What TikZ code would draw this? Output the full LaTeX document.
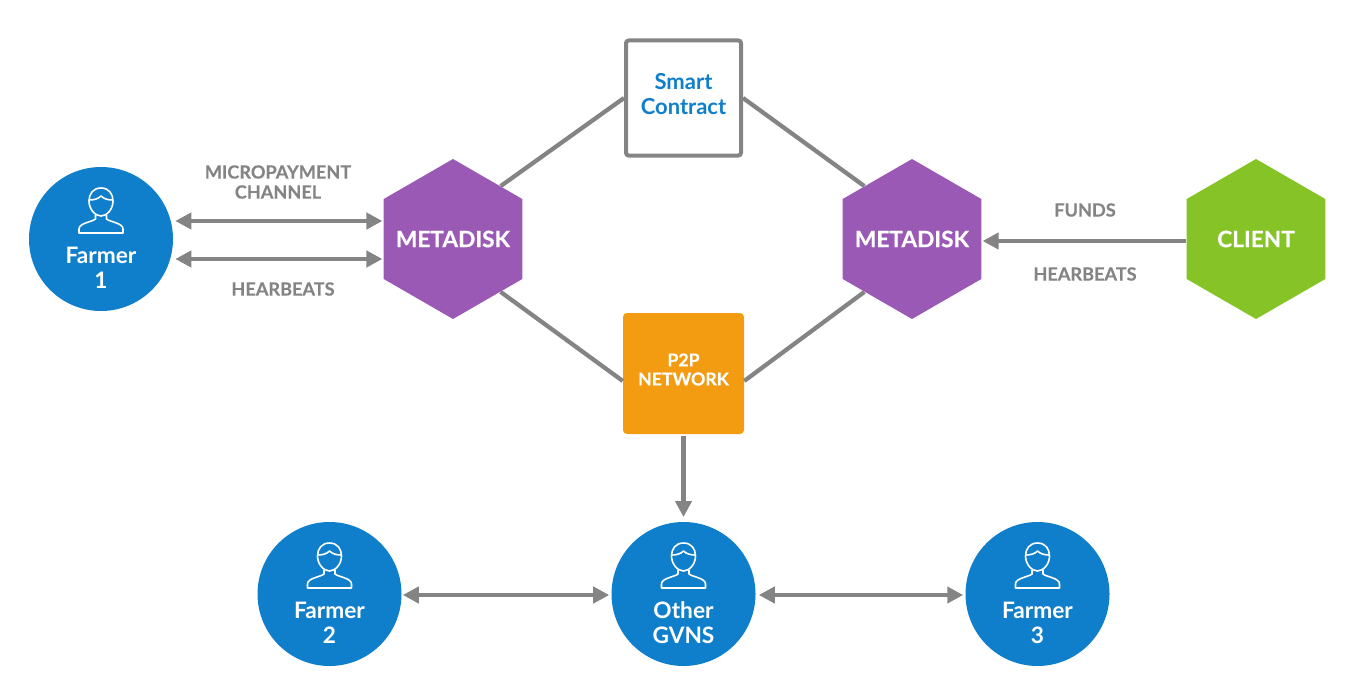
\documentclass[tikz,border=0pt]{standalone}
\usepackage{fontspec}
\setmainfont{Lato}
\newfontfamily\heavyfont{Lato}[BoldFeatures={FakeBold=0.4}]
\usepackage{tikz}
\usetikzlibrary{arrows.meta}
\usetikzlibrary{calc}
\usetikzlibrary{shapes.geometric}
\usetikzlibrary{positioning}
\definecolor{linkgray}{HTML}{848484}
\definecolor{agentblue}{HTML}{0F7FCB}
\definecolor{hubpurple}{HTML}{9B59B6}
\definecolor{clientgreen}{HTML}{86C326}
\definecolor{netorange}{HTML}{F39C12}

\begin{document}
\begin{tikzpicture}[x=0.75pt,y=-0.75pt,
    agent/.style={circle,fill=agentblue,minimum size=108pt,inner sep=0pt},
    agentname/.style={text=white,align=center,font=\fontsize{17}{18.75}\selectfont\bfseries},
    hub/.style={regular polygon,regular polygon sides=6,shape border rotate=30,minimum size=120pt,inner sep=0pt},
    hubname/.style={text=white,font=\fontsize{17}{18}\selectfont\heavyfont\bfseries},
    link/.style={draw=linkgray,line width=3.2pt},
    arrow/.style={link,-{Triangle[length=12pt,width=12pt]}},
    both/.style={link,{Triangle[length=12pt,width=12pt]}-{Triangle[length=12pt,width=12pt]}},
    tag/.style={text=linkgray,align=center,font=\fontsize{13.6}{15}\selectfont\heavyfont\bfseries},
    person/.pic={
        \draw[white,line width=1.2pt,line join=round]
            (0,-51) .. controls (8,-51) and (12,-45) .. (12,-38)
            .. controls (12,-30) and (6,-23) .. (0,-23)
            .. controls (-6,-23) and (-12,-30) .. (-12,-38)
            .. controls (-12,-45) and (-8,-51) .. (0,-51);
        \draw[white,line width=1.2pt,line join=round]
            (-12,-39) .. controls (-7,-39) and (-3,-40) .. (0,-43)
            .. controls (3,-40) and (7,-39) .. (12,-39);
        \draw[white,line width=1.2pt,line join=round]
            (-5.5,-24) -- (-5.5,-20) .. controls (-9,-17) and (-22,-16) .. (-22,-10)
            -- (-22,-6) -- (22,-6) -- (22,-10)
            .. controls (22,-16) and (9,-17) .. (5.5,-20) -- (5.5,-24);
    }]
    \useasboundingbox (0,0) rectangle (1358,699);

    \node[agent] (farmer1) at (101,239) {};
    \node[hub,fill=hubpurple] (metaL) at (453,239) {};
    \node[hub,fill=hubpurple] (metaR) at (912,239) {};
    \node[hub,fill=clientgreen] (client) at (1256,239) {};
    \node[hubname] (metaLname) at (metaL) {METADISK};
    \node[hubname] (metaRname) at (metaR) {METADISK};
    \node[hubname] (clientname) at (client) {CLIENT};

    \node[draw=linkgray,line width=3pt,rounded corners=2pt,minimum size=86.25pt,inner sep=0pt] (smart) at (683.5,98) {};
    \node[text=agentblue,align=center,font=\fontsize{16.5}{18.75}\selectfont\bfseries] (smartname) at ($(smart)+(0,-4)$) {Smart\\Contract};

    \node[fill=netorange,rounded corners=3pt,minimum size=90.75pt,inner sep=0pt] (p2p) at (683.5,373.5) {};
    \node[text=white,align=center,font=\fontsize{13.3}{14.25}\selectfont\heavyfont\bfseries] (p2pname) at ($(p2p)+(0,-4)$) {P2P\\NETWORK};

    \node[agent] (other) at (683.5,594) {};
    \node[agent, left=157.1pt of other] (farmer2) {};
    \node[agent, right=157.1pt of other] (farmer3) {};

    % names and icons of the round nodes
    \foreach \who/\first/\second in {farmer1/Farmer/1,farmer2/Farmer/2,other/Other/GVNS,farmer3/Farmer/3}{
        \pic at (\who) {person};
        \node[agentname] (\who name) at ($(\who)+(0,28.5)$) {\first\\\second};
    }

    \draw[link] (metaL.48) -- (smart.west);
    \draw[link] (metaR.132) -- (smart.east);
    \draw[link] (metaL.-48) -- (p2p.187);
    \draw[link] (metaR.228) -- (p2p.-7);

    \draw[both] ([shift={(2,-18)}]farmer1.east) -- ([shift={(-1,-18)}]metaL.west);
    \draw[both] ([shift={(2,20)}]farmer1.east) -- ([shift={(-1,20)}]metaL.west);
    \draw[arrow] ([yshift=-1.5pt]client.west) -- ([shift={(1,2)}]metaR.east);
    \draw[arrow] ([yshift=-1pt]p2p.south) -- ([yshift=3.5pt]other.north);
    \draw[both] ([shift={(1,1)}]farmer2.east) -- ([shift={(-2,1)}]other.west);
    \draw[both] ([shift={(3,1)}]other.east) -- ([shift={(-2,1)}]farmer3.west);

    \node[tag] (micro) at (278,182) {MICROPAYMENT\\CHANNEL};
    \node[tag] (beatL) at (283,289) {HEARBEATS};
    \node[tag] (funds) at (1085,210) {FUNDS};
    \node[tag] (beatR) at (1085,274) {HEARBEATS};
\end{tikzpicture}
\end{document}
